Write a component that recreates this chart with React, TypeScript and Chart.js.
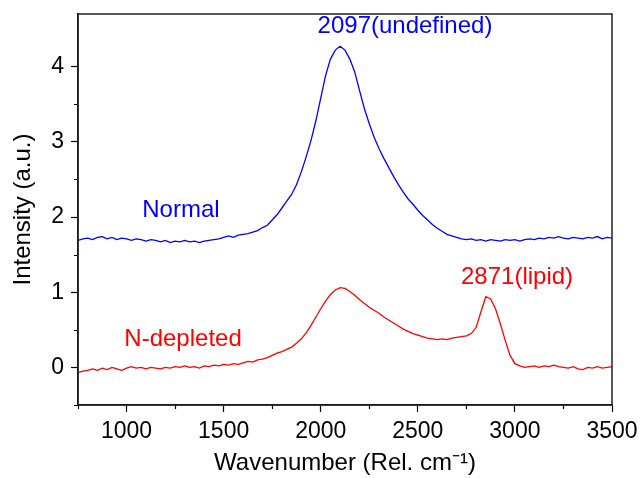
import React, { useEffect, useRef } from "react";
import { Chart, registerables } from "chart.js";

Chart.register(...registerables);

// Wavenumber axis: 750 .. 3500 every 25 rel. cm-1
const WN_START = 750;
const WN_STEP = 25;

const normalValues = [
  1.69, 1.71, 1.72, 1.70, 1.73, 1.74, 1.71, 1.73, 1.70, 1.72,
  1.71, 1.69, 1.71, 1.70, 1.68, 1.70, 1.69, 1.67, 1.69, 1.66,
  1.68, 1.67, 1.69, 1.67, 1.68, 1.66, 1.68, 1.69, 1.70, 1.71,
  1.73, 1.75, 1.73, 1.76, 1.77, 1.78, 1.80, 1.82, 1.86, 1.89,
  1.96, 2.03, 2.12, 2.21, 2.30, 2.43, 2.60, 2.80, 3.02, 3.28,
  3.58, 3.88, 4.10, 4.22, 4.27, 4.22, 4.10, 3.93, 3.68, 3.44,
  3.24, 3.06, 2.91, 2.78, 2.66, 2.54, 2.43, 2.33, 2.24, 2.17,
  2.09, 2.02, 1.96, 1.90, 1.85, 1.81, 1.77, 1.75, 1.73, 1.71,
  1.70, 1.71, 1.69, 1.70, 1.68, 1.70, 1.69, 1.68, 1.70, 1.69,
  1.70, 1.68, 1.70, 1.71, 1.70, 1.72, 1.71, 1.73, 1.72, 1.74,
  1.72, 1.71, 1.73, 1.72, 1.71, 1.73, 1.72, 1.74, 1.71, 1.73,
  1.72,
];

const depletedValues = [
  -0.07, -0.05, -0.04, -0.02, -0.04, -0.01, -0.03, 0.0, -0.02, -0.04,
  -0.01, 0.01, -0.01, 0.0, -0.02, 0.0, -0.01, -0.02, 0.0, -0.01,
  0.01, 0.0, 0.02, 0.0, 0.01, -0.01, 0.02, 0.01, 0.03, 0.02,
  0.04, 0.03, 0.05, 0.04, 0.06, 0.08, 0.07, 0.10, 0.11, 0.13,
  0.16, 0.19, 0.21, 0.24, 0.27, 0.32, 0.38, 0.46, 0.56, 0.67,
  0.78, 0.88, 0.97, 1.03, 1.06, 1.05, 1.01, 0.96, 0.90, 0.85,
  0.80, 0.76, 0.72, 0.67, 0.63, 0.59, 0.55, 0.51, 0.48, 0.45,
  0.43, 0.41, 0.39, 0.38, 0.37, 0.38, 0.37, 0.39, 0.40, 0.41,
  0.42, 0.45, 0.53, 0.74, 0.94, 0.91, 0.78, 0.58, 0.36, 0.16,
  0.05, 0.02, 0.0, 0.01, 0.02, 0.0, 0.02, 0.01, 0.03, 0.01,
  0.0, -0.01, 0.01, -0.02, -0.03, 0.0, -0.01, 0.01, -0.01, 0.0,
  0.01,
];

const seriesNames = ["Normal", "N-depleted"];
const seriesColors = ["#0000ff", "#ff0000"];

const annotationTexts = ["Normal", "N-depleted", "2097(undefined)", "2871(lipid)"];
const annotationX = [1280, 1291, 2434, 3011];
const annotationY = [2.09, 0.37, 4.53, 1.2];
const annotationColors = ["#0000ff", "#ff0000", "#0000ff", "#ff0000"];

const X_MIN = 750;
const X_MAX = 3500;
const Y_MIN = -0.5;
const Y_MAX = 4.7;

const FONT = "'Liberation Sans', Arial, sans-serif";

const isInt = (v: number) => Math.abs(v - Math.round(v)) < 1e-6;
const isHalf = (v: number) => Math.abs(v * 2 - Math.round(v * 2)) < 1e-6;
const isMajorX = (v: number) => Math.abs(v / 500 - Math.round(v / 500)) < 1e-6;

const framePlugin = {
  id: "frameAndMinor",
  afterDraw(chart: any) {
    const { ctx, chartArea: a } = chart;
    const xs = chart.scales.x;
    const ys = chart.scales.y;
    ctx.save();
    ctx.strokeStyle = "#000";
    ctx.lineWidth = 1.2;
    ctx.beginPath();
    xs.ticks.forEach((t: any) => {
      if (!isMajorX(t.value)) {
        const px = Math.round(xs.getPixelForValue(t.value)) + 0.5;
        ctx.moveTo(px, a.bottom);
        ctx.lineTo(px, a.bottom + 4);
      }
    });
    ys.ticks.forEach((t: any) => {
      if (isHalf(t.value) && !isInt(t.value)) {
        const py = Math.round(ys.getPixelForValue(t.value)) + 0.5;
        ctx.moveTo(a.left, py);
        ctx.lineTo(a.left - 4, py);
      }
    });
    ctx.stroke();
    ctx.lineWidth = 1.5;
    ctx.strokeStyle = "#222";
    ctx.strokeRect(a.left, a.top, a.right - a.left, a.bottom - a.top);
    ctx.restore();
  },
};

const labelPlugin = {
  id: "peakLabels",
  afterDatasetsDraw(chart: any) {
    const { ctx } = chart;
    const xs = chart.scales.x;
    const ys = chart.scales.y;
    ctx.save();
    ctx.font = `24px ${FONT}`;
    ctx.textAlign = "center";
    ctx.textBaseline = "middle";
    annotationTexts.forEach((txt, i) => {
      ctx.fillStyle = annotationColors[i];
      ctx.fillText(txt, xs.getPixelForValue(annotationX[i]), ys.getPixelForValue(annotationY[i]));
    });
    ctx.restore();
  },
};

export default function App() {
  const ref = useRef<HTMLCanvasElement>(null);

  useEffect(() => {
    if (!ref.current) return;
    const toPoints = (vals: number[]) =>
      vals.map((v, i) => ({ x: WN_START + i * WN_STEP, y: v }));

    const chart = new Chart(ref.current, {
      type: "line",
      data: {
        datasets: [normalValues, depletedValues].map((vals, i) => ({
          label: seriesNames[i],
          data: toPoints(vals),
          borderColor: seriesColors[i],
          backgroundColor: seriesColors[i],
          borderWidth: 1.3,
          pointRadius: 0,
          tension: 0,
          fill: false,
        })),
      },
      options: {
        responsive: false,
        animation: false,
        layout: { padding: { left: 0, top: 14, right: 28, bottom: 0 } },
        plugins: {
          legend: { display: false },
          tooltip: { enabled: false },
        },
        scales: {
          x: {
            type: "linear",
            min: X_MIN,
            max: X_MAX,
            afterFit: (s: any) => {
              s.height = 73;
              s.paddingLeft = 0;
              s.paddingRight = 0;
            },
            border: { display: true, color: "#000", width: 1.5 },
            grid: {
              display: true,
              drawOnChartArea: false,
              drawTicks: true,
              tickLength: 7,
              tickWidth: 1.2,
              tickColor: (c: any) => (c.tick && isMajorX(c.tick.value) ? "#000" : "rgba(0,0,0,0)"),
            },
            ticks: {
              stepSize: 250,
              autoSkip: false,
              maxRotation: 0,
              padding: 6,
              color: "#000",
              font: { family: FONT, size: 23 },
              callback: (v: any) => (isMajorX(Number(v)) ? String(v) : ""),
            },
            title: {
              display: true,
              text: "Wavenumber (Rel. cm⁻¹)",
              color: "#000",
              font: { family: FONT, size: 24 },
              padding: { top: 0, bottom: 0 },
            },
          },
          y: {
            type: "linear",
            min: Y_MIN,
            max: Y_MAX,
            afterFit: (s: any) => {
              s.width = 78;
              s.paddingTop = 0;
              s.paddingBottom = 0;
            },
            border: { display: true, color: "#000", width: 1.5 },
            grid: {
              display: true,
              drawOnChartArea: false,
              drawTicks: true,
              tickLength: 7,
              tickWidth: 1.2,
              tickColor: (c: any) => (c.tick && isInt(c.tick.value) ? "#000" : "rgba(0,0,0,0)"),
            },
            ticks: {
              stepSize: 0.5,
              autoSkip: false,
              padding: 7,
              color: "#000",
              font: { family: FONT, size: 23 },
              callback: (v: any) => (isInt(Number(v)) ? String(Math.round(Number(v))) : ""),
            },
            title: {
              display: true,
              text: "Intensity (a.u.)",
              color: "#000",
              font: { family: FONT, size: 24 },
              padding: { top: 9, bottom: 0 },
            },
          },
        },
      },
      plugins: [framePlugin, labelPlugin],
    });
    return () => chart.destroy();
  }, []);

  return (
    <div style={{ position: "fixed", left: 0, top: 0, width: 640, height: 478, background: "#fff" }}>
      <canvas ref={ref} width={640} height={478} style={{ display: "block" }} />
    </div>
  );
}
